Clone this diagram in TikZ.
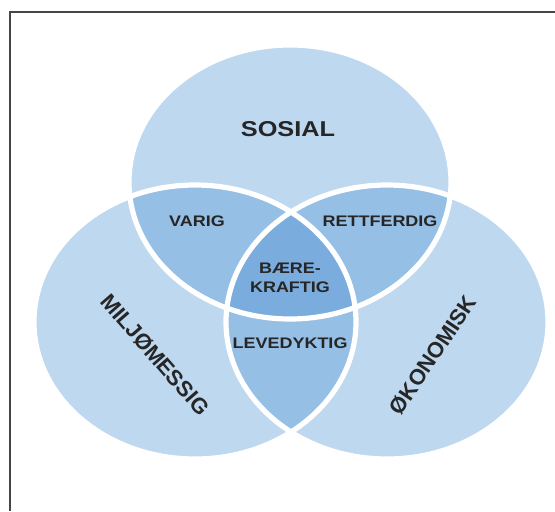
\documentclass[tikz,border=0pt]{standalone}
\usepackage{fontspec}
\setmainfont{Liberation Sans}
\definecolor{lightblue}{RGB}{190,216,240}
\definecolor{midblue}{RGB}{150,191,230}
\definecolor{darkblue}{RGB}{122,172,222}
\definecolor{framegray}{RGB}{70,70,70}
\begin{document}
\begin{tikzpicture}[x=0.25mm, y=-0.25mm,
    ell/.style={x radius=161, y radius=137},
    ring/.style={draw=white, line width=1.3mm},
    toplabel/.style={font=\fontsize{18}{21}\selectfont\bfseries, text=black!85, yscale=0.85},
    sidelabel/.style={font=\fontsize{15.6}{18}\selectfont\bfseries, text=black!85},
    smalllabel/.style={font=\fontsize{12.8}{15.5}\selectfont\bfseries, text=black!85, align=center, yscale=0.85}]
    \useasboundingbox (0,0) rectangle (555,511);
    \fill[white] (0,0) rectangle (555,511);
    \draw[line width=0.4mm, framegray] (555,12) -- (10,12) -- (10,511);
    \coordinate (sos) at (290,182);
    \coordinate (milj) at (195,322);
    \coordinate (okon) at (387,322);
    % the three circles
    \fill[lightblue] (sos) ellipse [ell];
    \fill[lightblue] (milj) ellipse [ell];
    \fill[lightblue] (okon) ellipse [ell];
    % overlaps of two
    \begin{scope}
    \clip (sos) ellipse [ell];
    \fill[midblue] (milj) ellipse [ell];
    \fill[midblue] (okon) ellipse [ell];
    \end{scope}
    \begin{scope}
    \clip (milj) ellipse [ell];
    \fill[midblue] (okon) ellipse [ell];
    \end{scope}
    % overlap of all three
    \begin{scope}
    \clip (sos) ellipse [ell];
    \clip (milj) ellipse [ell];
    \fill[darkblue] (okon) ellipse [ell];
    \end{scope}
    \draw[ring] (sos) ellipse [ell];
    \draw[ring] (milj) ellipse [ell];
    \draw[ring] (okon) ellipse [ell];
    \node[toplabel] (sosial) at (288,129) {SOSIAL};
    \node[sidelabel, rotate=-49] (miljomessig) at (155,355) {MILJØMESSIG};
    \node[sidelabel, rotate=56] (okonomisk) at (433,355) {ØKONOMISK};
    \node[smalllabel] (varig) at (197,221) {VARIG};
    \node[smalllabel] (rettferdig) at (380,221) {RETTFERDIG};
    \node[smalllabel] (baerekraftig) at (290,278) {BÆRE-\\KRAFTIG};
    \node[smalllabel] (levedyktig) at (290,343) {LEVEDYKTIG};
\end{tikzpicture}
\end{document}
